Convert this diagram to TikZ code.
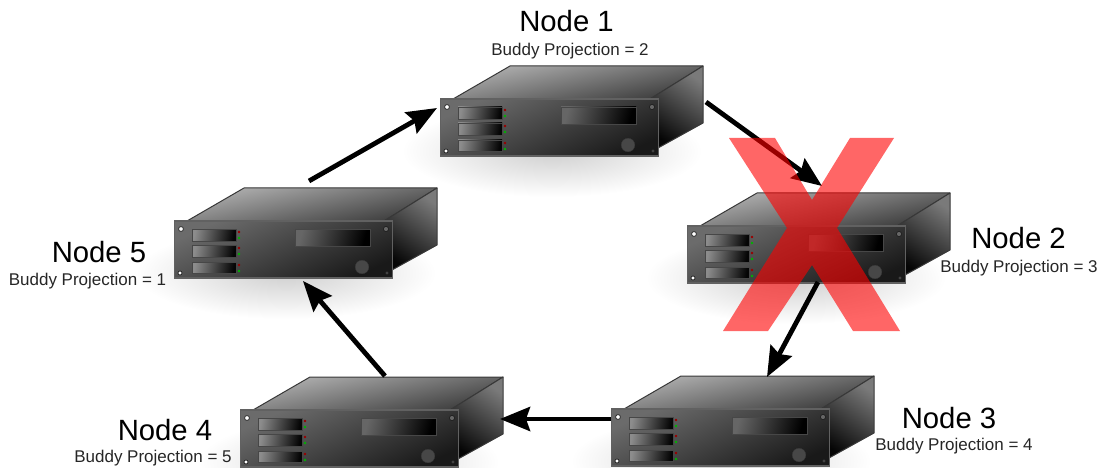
\documentclass[tikz,border=0pt]{standalone}
\usepackage{fontspec}
\setmainfont{Liberation Sans}
\usetikzlibrary{arrows.meta}
\tikzset{
  panelbox/.style={draw=black!62,line width=1.3pt,shading=axis,top color=black!58,bottom color=black!90,shading angle=25,minimum width=218pt,minimum height=57pt,inner sep=0pt,outer sep=0pt},
  topface/.style={draw=black!78,line width=1pt,line join=round,shading=axis,top color=black!30,bottom color=black!78,shading angle=12},
  sideface/.style={draw=black!78,line width=1pt,line join=round,shading=axis,top color=black!52,bottom color=black!98,shading angle=-35},
  slotbox/.style={draw=black!72,line width=0.8pt,shading=axis,top color=black!45,bottom color=black!98,shading angle=80},
  displaybox/.style={draw=black!72,line width=0.8pt,shading=axis,top color=black!60,bottom color=black,shading angle=75},
  knobshape/.style={fill=black!72,draw=black!78,line width=0.3pt},
  holeshape/.style={fill=white,draw=black!88,line width=0.7pt},
  ledred/.style={fill=red!60!black},
  ledgreen/.style={fill=green!70!black},
  flowarrow/.style={line width=4.8pt,black,-{Stealth[length=30pt,width=24pt,inset=4pt]}},
  titlelabel/.style={font=\fontsize{29.3}{31}\selectfont,inner sep=0pt},
  sublabel/.style={font=\fontsize{17}{19}\selectfont,text=black!85,inner sep=0pt},
  crossmark/.style={fill=red,fill opacity=0.6,draw=none}
}
\newcommand{\serverunit}[3]{%
 \begin{scope}[shift={(#2,#3)}]
  \path[topface] (13,0) -- (70,-33) -- (263,-33) -- (210,0) -- cycle;
  \path[sideface] (210,0) -- (263,-33) -- (263,24) -- (218,49) -- (218,0) -- cycle;
  \node[panelbox,anchor=north west] (#1) at (0.6,0) {};
  \foreach \yy/\hh in {8/12,24/12,41/11}{
    \path[slotbox] (18,\yy) rectangle (62,\yy+\hh);
    \fill[ledred] (65,\yy+3) circle (1.4);
    \fill[ledgreen] (65,\yy+9) circle (1.4);
  }
  \path[displaybox] (121,8) rectangle (196,25);
  \path[knobshape] (188,46) circle (6.8);
  \path[holeshape] (7,8) circle (2.4);
  \path[holeshape,fill=black!60] (212,8) circle (2.6);
  \path[holeshape] (6,52) circle (2);
  \path[holeshape,fill=black!30] (213,52) circle (1.3);
 \end{scope}}
\newcommand{\softshadow}[2]{\shade[inner color=black!19,outer color=white] (#1,#2) ellipse (150 and 46);}
\begin{document}
\begin{tikzpicture}[x=1pt,y=-1pt]
\useasboundingbox (0,0) rectangle (1101,468);
\softshadow{552}{151}
\softshadow{286}{273}
\softshadow{796}{278}
\softshadow{721}{461}
\softshadow{349}{462}
\serverunit{s1}{440}{99}
\serverunit{s5}{174}{221}
\serverunit{s2}{687}{226}
\serverunit{s3}{611}{409}
\serverunit{s4}{240}{410}
\node[titlelabel] (t1) at (566.5,21) {Node 1};
\node[sublabel] (b1) at (570,51) {Buddy Projection = 2};
\node[titlelabel] (t2) at (1018.5,238) {Node 2};
\node[sublabel] (b2) at (1019,268) {Buddy Projection = 3};
\node[titlelabel] (t3) at (949,418) {Node 3};
\node[sublabel] (b3) at (954,446) {Buddy Projection = 4};
\node[titlelabel] (t4) at (165,430) {Node 4};
\node[sublabel] (b4) at (153,458) {Buddy Projection = 5};
\node[titlelabel] (t5) at (99,252) {Node 5};
\node[sublabel] (b5) at (87.5,281) {Buddy Projection = 1};
\coordinate (o1) at (706,102);
\coordinate (i2) at (822,186);
\coordinate (o2) at (818,282);
\coordinate (i3) at (767,377);
\coordinate (o3) at (611,419);
\coordinate (i4) at (500,419);
\coordinate (o4) at (385,376);
\coordinate (i5) at (303,281);
\coordinate (o5) at (309,181);
\coordinate (i1) at (437,108);
\draw[flowarrow] (o1) -- (i2);
\draw[flowarrow] (o2) -- (i3);
\draw[flowarrow] (o3) -- (i4);
\draw[flowarrow] (o4) -- (i5);
\draw[flowarrow] (o5) -- (i1);
\path[crossmark] (729,138) -- (775,138) -- (812,200) -- (850,138) -- (894,138) -- (837,228) -- (900,331) -- (853,331) -- (812,265) -- (768,331) -- (723,331) -- (787,228) -- cycle;
\end{tikzpicture}
\end{document}
